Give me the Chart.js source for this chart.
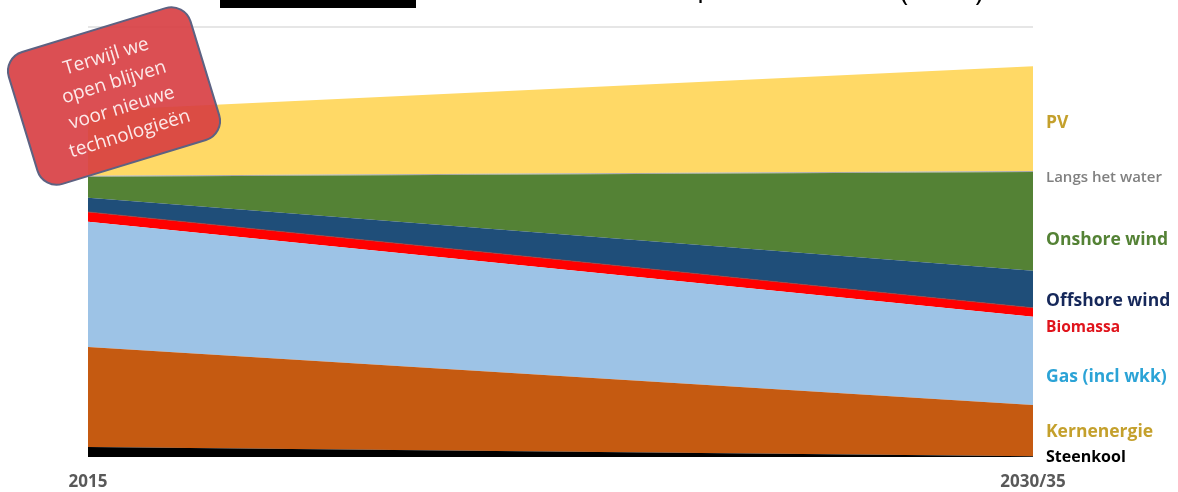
<!DOCTYPE html>
<html>
<head>
<meta charset="utf-8">
<script src="https://cdn.jsdelivr.net/npm/chart.js@4/dist/chart.umd.min.js"></script>
<style>
  html, body { margin: 0; padding: 0; background: #fff; }
  #wrap { width: 1178px; height: 492px; position: relative; }
</style>
</head>
<body>
<div id="wrap"><canvas id="mixChart"></canvas></div>
<script>
// data (share of total, bottom to top)
const years = ['2015', '2030/35'];
const steenkool = [2.3, 0.2];
const kernenergie = [23.3, 11.9];
const gas = [29.1, 20.5];
const biomassa = [2.3, 2.1];
const offshore = [3.3, 8.6];
const onshore = [4.9, 23.0];
const langsWater = [0.2, 0.2];
const pv = [15.1, 24.4];

const seriesNames = ['Steenkool', 'Kernenergie', 'Gas (incl wkk)', 'Biomassa', 'Offshore wind', 'Onshore wind', 'Langs het water', 'PV'];
const seriesData = [steenkool, kernenergie, gas, biomassa, offshore, onshore, langsWater, pv];
const fillColors = ['#000000', '#C55A11', '#9DC3E6', '#FF0000', '#1F4E79', '#548235', '#A6A6A6', '#FFD966'];

// right hand labels: text colour, y in value units, font size
const labelColors = ['#000000', '#C4A02C', '#2BA3D6', '#E0141C', '#16285A', '#548235', '#808080', '#C4A02C'];
const labelAt = [0.0, 5.8, 18.6, 30.2, 36.3, 50.5, 65.0, 77.6];
const labelSize = [16, 17.5, 17.5, 15.5, 17.5, 17.5, 15, 17.5];

const callout = ['Terwijl we', 'open blijven', 'voor nieuwe', 'technologieën'];

const datasets = seriesData.map((d, i) => ({
    label: seriesNames[i],
    data: d,
    backgroundColor: fillColors[i],
    borderColor: i === 3 ? '#8a4a4a' : fillColors[i],
    borderWidth: i === 3 ? 0.8 : 0,
    pointRadius: 0,
    tension: 0,
    fill: i === 0 ? 'origin' : '-1'
}));

const sideLabels = {
    id: 'sideLabels',
    afterDraw(chart) {
        const ctx = chart.ctx;
        const y = chart.scales.y;
        ctx.save();
        ctx.textBaseline = 'middle';
        ctx.textAlign = 'left';
        seriesNames.forEach((name, i) => {
            const weight = (i === 6) ? '600' : 'bold';
            ctx.font = weight + ' ' + labelSize[i] + "px 'Open Sans', sans-serif";
            ctx.fillStyle = labelColors[i];
            ctx.fillText(name, 1046, y.getPixelForValue(labelAt[i]));
        });

        // cut-off title at the very top
        ctx.fillStyle = '#000';
        ctx.fillRect(220, 0, 196, 8);
        ctx.font = "28px 'Open Sans', sans-serif";
        ctx.textBaseline = 'alphabetic';
        ctx.fillText('p', 697, -4);
        ctx.fillText('(', 900, 1);
        ctx.fillText(')', 975, 1);

        // callout box
        ctx.translate(114, 96);
        ctx.rotate(-17 * Math.PI / 180);
        const w = 190, h = 138, r = 20;
        ctx.beginPath();
        ctx.roundRect(-w / 2, -h / 2, w, h, r);
        ctx.fillStyle = 'rgba(215, 60, 64, 0.9)';
        ctx.fill();
        ctx.lineWidth = 2;
        ctx.strokeStyle = '#5D6282';
        ctx.stroke();
        ctx.fillStyle = '#FCE9E9';
        ctx.font = "19px 'Open Sans', sans-serif";
        ctx.textAlign = 'center';
        ctx.textBaseline = 'middle';
        callout.forEach((line, k) => {
            ctx.fillText(line, 4, -40 + k * 27);
        });
        ctx.restore();
    }
};

new Chart(document.getElementById('mixChart'), {
    type: 'line',
    data: { labels: years, datasets: datasets },
    options: {
        responsive: true,
        maintainAspectRatio: false,
        animation: false,
        layout: { padding: { left: 88, right: 145, top: 27, bottom: 0 } },
        plugins: {
            legend: { display: false },
            tooltip: { enabled: false }
        },
        scales: {
            x: {
                offset: false,
                afterFit: axis => { axis.height = 35; },
                grid: { display: false, drawTicks: true, tickLength: 6, tickColor: '#dcdcdc' },
                border: { display: false },
                ticks: {
                    color: '#595959',
                    font: { family: "'Open Sans', sans-serif", size: 17, weight: 'bold' },
                    padding: 9,
                    maxRotation: 0,
                    autoSkip: false
                }
            },
            y: {
                stacked: true,
                min: 0,
                max: 100,
                border: { display: false },
                ticks: { display: false, stepSize: 100 },
                grid: {
                    drawTicks: false,
                    color: ctx => ctx.tick.value === 100 ? '#e6e6e6' : 'rgba(0,0,0,0)',
                    lineWidth: 2
                }
            }
        }
    },
    plugins: [sideLabels]
});
</script>
</body>
</html>
